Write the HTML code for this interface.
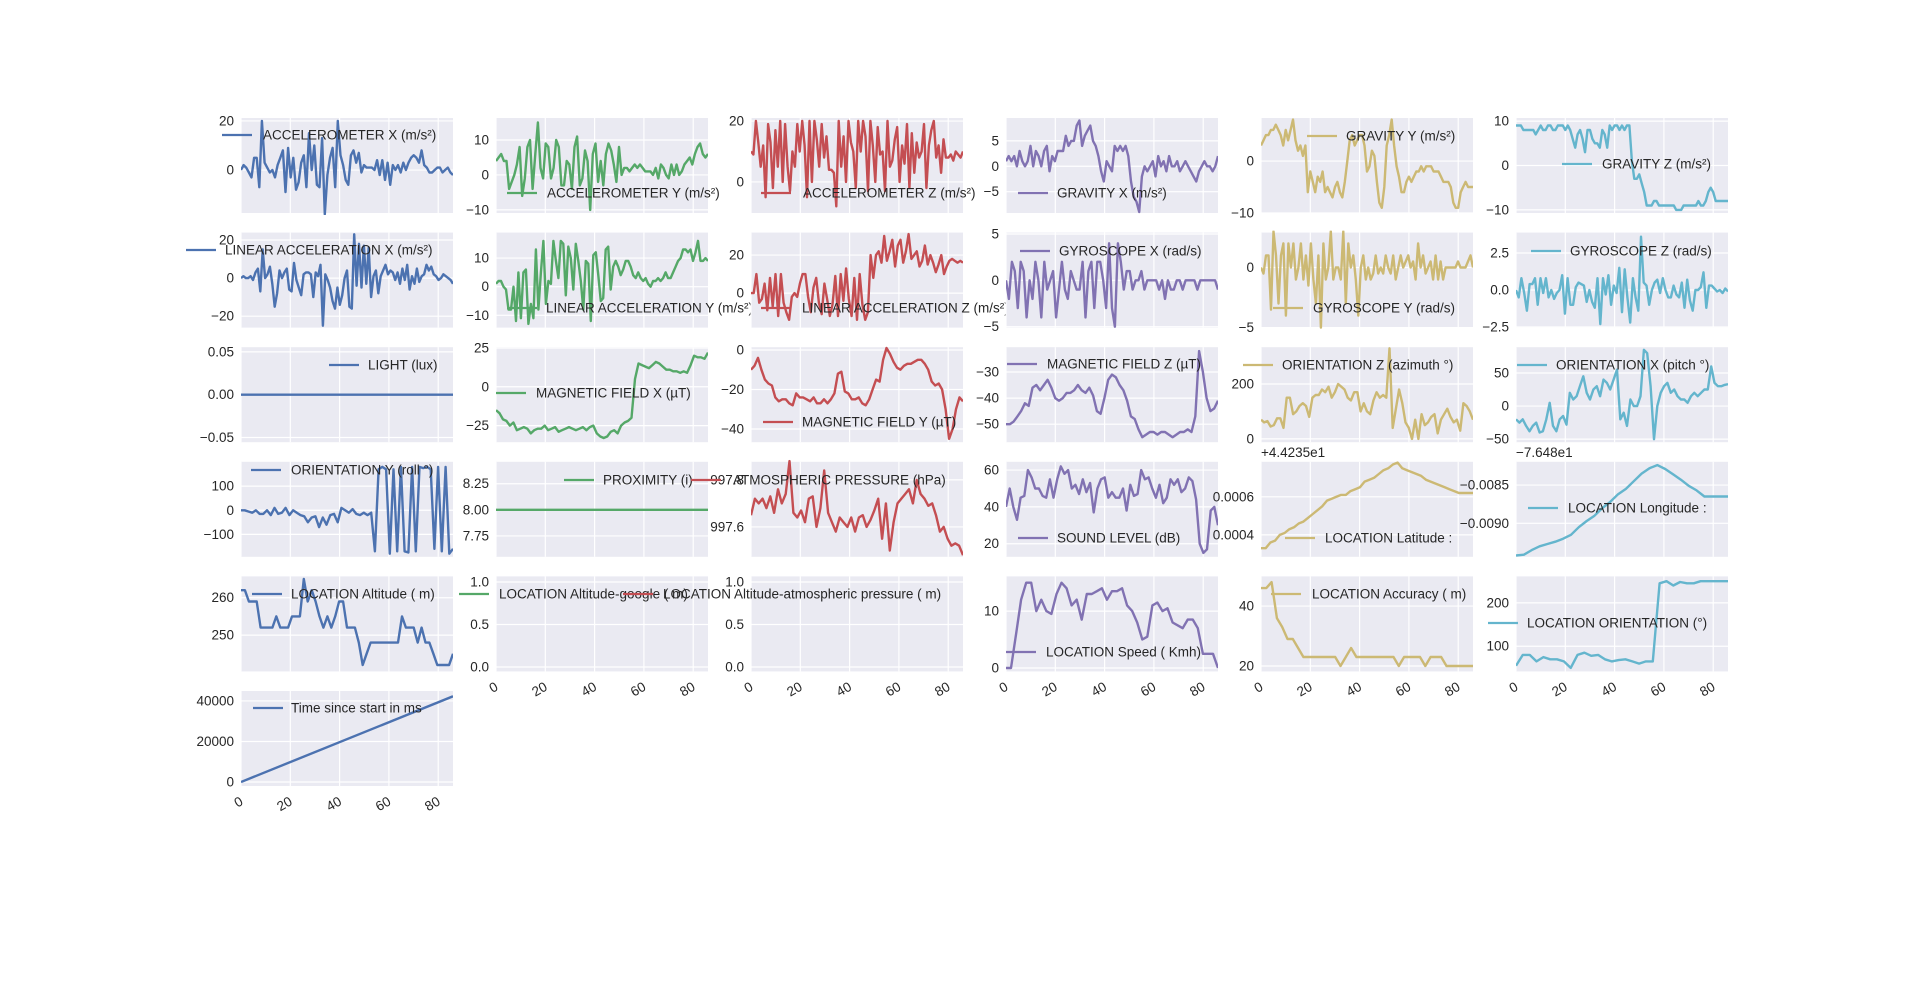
<!DOCTYPE html>
<html><head><meta charset="utf-8"><title>Sensor subplots</title>
<style>
html,body{margin:0;padding:0;background:#fff;}
svg{display:block;font-family:"Liberation Sans",Arial,sans-serif;}
</style></head>
<body>
<svg id="fig" width="1920" height="983" viewBox="0 0 1920 983" xmlns="http://www.w3.org/2000/svg"></svg>
<script>
const xTicks = [0, 20, 40, 60, 80];
const xTickLabels = ["0", "20", "40", "60", "80"];
const accX = [0,2,1,-1,-3,5,5,-7,20,3,1,-1,0,-3,2,5,8,-9,9,-3,5,-8,-5,3,6,-7,15,0,10,-6,-7,13,-18,-2,5,9,-7,20,6,2,-4,-6,6,8,3,7,-1,2,1,1,1,0,4,-2,4,-4,3,-6,2,0,2,-1,3,0,3,5,6,5,3,8,2,1,-1,-1,0,1,1,-1,0,1,-1,-2];
const accY = [4,5,6,4,4,-4,-2,0,3,8,-6,-1,8,10,-4,6,15,2,-1,9,8,-1,2,10,8,-3,-3,4,3,-4,8,11,-3,-1,7,4,-10,6,9,-2,4,-3,6,9,7,3,-2,8,0,2,2,1,2,3,2,3,2,1,1,1,0,2,-1,3,2,0,-1,3,0,3,0,1,3,4,5,3,6,8,9,6,5,6];
const accZ = [10,9,20,13,5,12,-5,19,13,-2,17,5,20,0,19,5,-3,10,5,19,10,20,12,-5,20,0,20,14,5,19,8,15,4,4,3,-8,20,5,15,0,20,13,10,-2,20,10,20,15,-3,20,12,0,18,9,10,-3,20,5,7,14,18,0,12,6,19,-2,16,3,13,8,10,19,-2,12,17,20,8,12,3,14,8,8,9,7,10,9,8,10];
const gravX = [1,2,1,2,0,3,1,0,1,4,0,3,2,0,3,4,-1,2,1,3,3,3,6,4,5,5,8,9,4,6,7,8,5,4,2,-1,-3,1,0,-1,4,3,4,3,4,2,-3,-6,-7,-9,-2,0,-1,0,1,-2,2,0,1,-1,2,0,0,1,-1,0,1,0,-1,-2,-3,-1,0,1,0,0,-1,0,2];
const gravY = [3,4,5,5,6,6,7,6,5,3,6,4,6,8,4,2,3,1,3,-6,-2,-4,-6,-3,-4,-2,-6,-5,-6,-7,-5,-4,-6,-7,-4,0,4,5,3,4,5,5,3,-2,-1,2,1,-4,-8,-9,-5,3,5,8,3,-1,-3,-6,-6,-4,-3,-4,-3,-2,-2,-1,-2,-1,-1,-1,-2,-2,-2,-3,-4,-4,-4,-5,-8,-9,-9,-6,-5,-4,-5,-5,-5];
const gravZ = [9,9,9,8,8,8,8,8,7,8,9,8,8,9,9,8,8,9,9,9,8,9,8,6,4,7,8,6,3,8,8,6,5,5,4,8,7,4,9,8,9,9,8,9,8,9,9,1,-3,-3,-2,-4,-6,-9,-9,-9,-8,-8,-9,-9,-9,-9,-9,-9,-9,-10,-10,-10,-9,-9,-9,-9,-9,-9,-8,-9,-9,-8,-6,-5,-6,-8,-8,-8,-8,-8,-8];
const linX = [0,1,0,0,1,-1,3,5,-7,15,0,2,6,-3,-15,-8,4,0,3,5,-6,-7,8,-1,-5,-9,2,3,3,2,-10,3,1,7,-25,2,-1,-5,-12,-16,-5,-14,-9,0,4,-15,-16,23,-4,18,-5,17,-3,16,-10,1,4,-8,1,4,7,2,4,3,-1,3,-3,5,-1,7,-6,1,-3,5,-2,1,2,7,4,6,2,1,-1,0,2,1,0,-1,-3];
const linY = [1,2,2,0,-1,-8,-8,0,-12,5,-11,5,6,-13,-6,-11,13,-8,5,16,-6,2,1,16,9,3,16,15,-3,14,10,-1,15,9,2,-8,9,8,-12,11,12,4,-5,-4,13,14,-1,7,9,7,4,6,9,9,7,4,3,5,3,2,3,1,0,2,2,3,2,3,5,3,3,5,7,9,10,13,13,12,13,9,12,16,9,9,10,9];
const linZ = [0,0,10,-5,-3,5,-9,8,-7,10,-12,10,-5,-10,-14,-2,0,-2,5,10,10,-2,-10,3,8,-5,-11,5,-3,-12,-6,9,-12,10,-4,13,-3,-12,8,-14,10,-6,-14,-10,20,8,20,22,16,30,17,22,28,14,25,28,16,22,31,18,20,22,14,17,25,15,20,16,11,15,20,10,14,17,18,17,16,17,16];
const gyroX = [0,-2,2,1,-3,2,1,-4,0,-2,2,0,-4,2,-1,0,1,-4,-1,2,-1,-2,1,0,-1,-1,2,-4,1,2,-3,2,2,0,-3,4,-3,-5,4,2,-1,1,1,-1,0,0,1,-1,0,0,0,0,-1,0,-2,0,-1,-1,0,0,-1,0,0,0,0,-1,0,0,0,0,0,0,-1];
const gyroY = [0,-0.5,1,1,-3.5,3,1,-3,1,2,-4,2,0,2,-1,0,2,-1,1,-1.5,2,-1,-3,1,-5,2,-1,0,3,-1,0,0,-1,3,-3,2,0,1,-1,-4,0,1,-1,0,-1,-0.5,1,-0.5,0,-0.5,1,0,-0.5,1,-1,0,1,0,0.5,1,0,0.5,-1,2,0,1,-0.5,0,0.5,-1,1,-1,0.5,-1,0,0,0,0,0,0.5,0,0,0,0.5,1,0];
const gyroZ = [0,-0.5,0.8,-0.2,-1.4,0.4,0.4,0.8,-1,0.8,-0.2,0.8,-0.5,0,-0.6,-0.2,0,1,-1.6,0.8,-1,-1,0.2,0.5,0.4,0.3,-0.8,0,-0.8,-1.2,0.8,-2.3,0.8,-0.3,1,-1,0.3,-0.2,1.5,-1.5,1.4,-0.5,-2.2,0.8,-0.5,-1.4,3.6,0.5,0.3,-1,0,0.5,0.7,-0.2,0.8,0,-0.5,-0.5,0.3,-0.3,-0.5,0.5,-1.2,0.7,-0.7,-1.4,0,0,0.2,1.2,-1.2,0.3,0.3,0.1,-0.1,0,-0.2,0.1,-0.1];
const light = [0, 0];
const magX = [-15,-17,-21,-22,-25,-23,-28,-27,-26,-27,-30,-28,-27,-27,-25,-28,-27,-26,-29,-28,-27,-26,-27,-28,-27,-26,-28,-26,-25,-30,-32,-33,-32,-29,-28,-30,-25,-23,-22,-20,5,15,14,13,12,14,16,15,13,11,11,10,10,9,10,9,14,20,19,19,18,22];
const magY = [-10,-8,-4,-10,-15,-17,-18,-24,-26,-25,-25,-27,-28,-22,-24,-24,-25,-26,-24,-27,-27,-25,-27,-25,-22,-12,-11,-21,-22,-25,-25,-24,-27,-28,-25,-20,-15,-16,-5,1,-2,-6,-9,-10,-8,-7,-7,-6,-5,-5,-7,-10,-16,-18,-17,-20,-30,-45,-40,-30,-24,-26];
const magZ = [-50,-50,-49,-47,-45,-42,-43,-36,-35,-37,-35,-33,-36,-40,-41,-40,-38,-38,-37,-35,-37,-38,-36,-39,-45,-46,-40,-33,-31,-32,-35,-37,-41,-47,-48,-52,-55,-54,-53,-53,-54,-53,-53,-54,-55,-54,-53,-53,-52,-53,-47,-22,-30,-40,-45,-44,-41];
const oriZ = [70,60,65,45,50,75,75,40,150,150,90,100,120,130,120,80,150,160,160,180,170,190,150,170,200,190,180,150,140,170,170,100,130,100,90,140,170,150,160,150,330,40,110,180,130,60,40,0,70,0,90,50,60,80,90,20,70,90,110,80,60,70,30,130,120,100,70];
const oriX = [-20,-25,-20,-30,-38,-30,-25,-40,-38,-20,5,-30,-38,-20,-15,-28,20,10,15,30,45,20,10,25,30,15,40,35,25,40,55,-20,-10,-30,10,0,0,15,85,80,30,-50,0,20,30,35,20,25,15,10,10,5,15,20,15,20,25,25,60,35,30,30,32,33];
const oriY = [0,0,-5,-10,0,-15,-15,0,-20,10,-15,-10,10,-20,0,-10,-20,-25,-50,-30,-25,-70,-30,-60,-20,-15,-50,10,0,-10,5,-15,-20,-10,-20,-10,-170,170,180,170,-180,170,-170,180,-170,-175,180,-170,180,175,180,170,-160,180,-170,180,-180,-160];
const proximity = [8, 8];
const atmPressure = [997.65,997.72,997.7,997.72,997.68,997.73,997.66,997.76,997.7,997.74,997.88,997.66,997.64,997.67,997.62,997.72,997.73,997.6,997.68,997.84,997.66,997.62,997.58,997.64,997.62,997.6,997.64,997.58,997.64,997.65,997.6,997.63,997.67,997.72,997.55,997.7,997.5,997.62,997.7,997.72,997.74,997.76,997.7,997.8,997.74,997.72,997.69,997.7,997.65,997.58,997.6,997.55,997.52,997.53,997.52,997.48];
const soundLevel = [40,50,40,33,45,46,60,56,50,50,46,45,55,45,55,62,58,60,50,52,47,55,48,53,37,50,55,56,45,48,45,45,50,38,52,46,47,60,55,56,50,45,52,42,45,55,52,55,48,50,56,54,44,20,15,17,38,40,30];
const latitude = [0.00033,0.00033,0.00036,0.00037,0.00040,0.00041,0.00043,0.00044,0.00046,0.00047,0.00049,0.00051,0.00053,0.00055,0.00058,0.00059,0.00060,0.00061,0.00061,0.00063,0.00064,0.00065,0.00068,0.00069,0.00070,0.00072,0.00074,0.00075,0.00077,0.00078,0.00075,0.00074,0.00073,0.00072,0.00071,0.00069,0.00068,0.00067,0.00066,0.00065,0.00064,0.00063,0.00062,0.00062,0.00062,0.00062];
const longitude = [-0.00942,-0.00941,-0.00935,-0.00930,-0.00927,-0.00924,-0.00920,-0.00915,-0.00905,-0.00897,-0.00890,-0.00880,-0.00872,-0.00862,-0.00855,-0.00845,-0.00835,-0.00828,-0.00824,-0.00829,-0.00836,-0.00843,-0.00851,-0.00857,-0.00865,-0.00865,-0.00865,-0.00865];
const altitude = [262,262,259,259,259,252,252,252,252,255,252,252,252,255,255,255,265,259,262,259,255,252,255,252,255,259,259,252,252,252,248,242,245,248,248,248,248,248,248,248,248,255,252,252,252,248,252,248,248,245,242,242,242,242,245];
const altGoogle = [];
const altAtm = [];
const speed = [0,0,6,12,15,15,10,12,10,9.5,13,15,14,11,12,8.5,13,13,13.5,14,12,13.5,13.5,14,11,10,8,5,5.5,11,11.5,10,10.5,8,7.5,7,8.5,8.5,7,2.5,2.5,2.5,0];
const accuracy = [46,46,48,36,33,29,29,26,23,23,23,23,23,23,23,20,23,26,23,23,23,23,23,23,23,23,20,23,23,23,23,20,23,23,23,20,20,20,20,20,20];
const locOrient = [55,80,80,65,75,70,70,65,50,80,85,78,80,70,65,68,70,65,60,65,65,245,250,240,248,245,245,250,250,250,250,250];
const timeMs = [0, 42300];

const C = {b:"#4C72B0", g:"#55A868", r:"#C44E52", p:"#8172B2", y:"#CCB974", c:"#64B5CD"};
const plots = [
 [0,0,"accelerometer-x","ACCELEROMETER X (m/s²)",C.b,accX,-17.5,21.2,[0,20],["0","20"],[222,135,263]],
 [0,1,"accelerometer-y","ACCELEROMETER Y (m/s²)",C.g,accY,-10.9,16.3,[-10,0,10],["−10","0","10"],[507,193,547]],
 [0,2,"accelerometer-z","ACCELEROMETER Z (m/s²)",C.r,accZ,-10.2,21,[0,20],["0","20"],[761,193,803]],
 [0,3,"gravity-x","GRAVITY X (m/s²)",C.p,gravX,-9.2,9.5,[-5,0,5],["−5","0","5"],[1018,193,1057]],
 [0,4,"gravity-y","GRAVITY Y (m/s²)",C.y,gravY,-10,8.3,[-10,0],["−10","0"],[1307,136,1346]],
 [0,5,"gravity-z","GRAVITY Z (m/s²)",C.c,gravZ,-10.7,10.7,[-10,0,10],["−10","0","10"],[1562,164,1602]],
 [1,0,"linear-acceleration-x","LINEAR ACCELERATION X (m/s²)",C.b,linX,-26,23.9,[-20,0,20],["−20","0","20"],[186,250,225]],
 [1,1,"linear-acceleration-y","LINEAR ACCELERATION Y (m/s²)",C.g,linY,-14.3,18.9,[-10,0,10],["−10","0","10"],[507,308,546]],
 [1,2,"linear-acceleration-z","LINEAR ACCELERATION Z (m/s²)",C.r,linZ,-18.1,31.8,[0,20],["0","20"],[761,308,802]],
 [1,3,"gyroscope-x","GYROSCOPE X (rad/s)",C.p,gyroX,-5.1,5.15,[-5,0,5],["−5","0","5"],[1020,251,1059]],
 [1,4,"gyroscope-y","GYROSCOPE Y (rad/s)",C.y,gyroY,-5,2.9,[-5,0],["−5","0"],[1273,308,1313]],
 [1,5,"gyroscope-z","GYROSCOPE Z (rad/s)",C.c,gyroZ,-2.54,3.88,[-2.5,0,2.5],["−2.5","0.0","2.5"],[1531,251,1570]],
 [2,0,"light","LIGHT (lux)",C.b,light,-0.0555,0.0555,[-0.05,0,0.05],["−0.05","0.00","0.05"],[329,365,368]],
 [2,1,"magnetic-field-x","MAGNETIC FIELD X (µT)",C.g,magX,-35.7,25.5,[-25,0,25],["−25","0","25"],[496,393,536]],
 [2,2,"magnetic-field-y","MAGNETIC FIELD Y (µT)",C.r,magY,-46.7,1.4,[-40,-20,0],["−40","−20","0"],[763,422,802]],
 [2,3,"magnetic-field-z","MAGNETIC FIELD Z (µT)",C.p,magZ,-56.9,-20.5,[-50,-40,-30],["−50","−40","−30"],[1007,364,1047]],
 [2,4,"orientation-z","ORIENTATION Z (azimuth °)",C.y,oriZ,-12,334,[0,200],["0","200"],[1243,365,1282]],
 [2,5,"orientation-x","ORIENTATION X (pitch °)",C.c,oriX,-54.6,89,[-50,0,50],["−50","0","50"],[1517,365,1556]],
 [3,0,"orientation-y","ORIENTATION Y (roll °)",C.b,oriY,-193,201,[-100,0,100],["−100","0","100"],[251,470,291]],
 [3,1,"proximity","PROXIMITY (i)",C.g,proximity,7.55,8.46,[7.75,8,8.25],["7.75","8.00","8.25"],[564,480,603]],
 [3,2,"atmospheric-pressure","ATMOSPHERIC PRESSURE (hPa)",C.r,atmPressure,997.473,997.877,[997.6,997.8],["997.6","997.8"],[691,480,733]],
 [3,3,"sound-level","SOUND LEVEL (dB)",C.p,soundLevel,12.9,64.5,[20,40,60],["20","40","60"],[1018,538,1057]],
 [3,4,"location-latitude","LOCATION Latitude :",C.y,latitude,0.000285,0.000784,[0.0004,0.0006],["0.0004","0.0006"],[1285,538,1325],false,"+4.4235e1"],
 [3,5,"location-longitude","LOCATION Longitude :",C.c,longitude,-0.009437,-0.0081964,[-0.009,-0.0085],["−0.0090","−0.0085"],[1528,508,1568],false,"−7.648e1"],
 [4,0,"location-altitude","LOCATION Altitude ( m)",C.b,altitude,240.3,265.7,[250,260],["250","260"],[252,594,291]],
 [4,1,"location-altitude-google","LOCATION Altitude-google ( m)",C.g,altGoogle,-0.052,1.066,[0,0.5,1],["0.0","0.5","1.0"],[459,594,499],true],
 [4,2,"location-altitude-atmospheric","LOCATION Altitude-atmospheric pressure ( m)",C.r,altAtm,-0.052,1.066,[0,0.5,1],["0.0","0.5","1.0"],[623,594,663],true],
 [4,3,"location-speed","LOCATION Speed ( Kmh)",C.p,speed,-0.6,16.1,[0,10],["0","10"],[1006,652,1046],true],
 [4,4,"location-accuracy","LOCATION Accuracy ( m)",C.y,accuracy,18.2,49.9,[20,40],["20","40"],[1271,594,1312],true],
 [4,5,"location-orientation","LOCATION ORIENTATION (°)",C.c,locOrient,42,261,[100,200],["100","200"],[1488,623,1527],true],
 [5,0,"time-since-start","Time since start in ms",C.b,timeMs,-1960,44900,[0,20000,40000],["0","20000","40000"],[253,708,291],true]
];

const NS = "http://www.w3.org/2000/svg";
const svg = document.getElementById("fig");
function mk(tag, attrs, parent){ const e=document.createElementNS(NS,tag); for(const k in attrs) e.setAttribute(k,attrs[k]); (parent||svg).appendChild(e); return e; }
const XMAX = 86, W = 212, H = 95, FS = 13.5;
const textCol = "#262626";

plots.forEach((p, i) => {
  const [r,c,name,label,col,data,y0,y1,yt,ytl,leg,xlab,offset] = p;
  const L = 241 + 255*c, T = 118 + 114.6*r;
  const xs = v => L + v / XMAX * W;
  const ys = v => T + H - (v - y0) / (y1 - y0) * H;
  const g = mk("g", {});
  
  
  const bg = mk("rect", {x:L, y:T, width:W, height:H, fill:"#EAEAF2"}, g);
  
  
  xTicks.forEach(t => { mk("line", {x1:xs(t), x2:xs(t), y1:T, y2:T+H, stroke:"#fff", "stroke-width":1.2}, g); });
  yt.forEach((t, k) => {
    mk("line", {x1:L, x2:L+W, y1:ys(t), y2:ys(t), stroke:"#fff", "stroke-width":1.2}, g);
    const tx = mk("text", {x:L-7, y:ys(t), "text-anchor":"end", "dominant-baseline":"central", "font-size":FS, fill:textCol}, g);
    tx.textContent = ytl[k];
    
    
  });
  const cid = "clip" + i;
  const cp = mk("clipPath", {id:cid}, g);
  mk("rect", {x:L, y:T-2, width:W, height:H+4}, cp);
  if (data.length > 1) {
    const n = data.length;
    const pts = data.map((v, k) => xs(k * XMAX / (n - 1)).toFixed(1) + "," + ys(v).toFixed(1)).join(" ");
    const pl = mk("polyline", {points:pts, fill:"none", stroke:col, "stroke-width":2.4, "stroke-linejoin":"round", "clip-path":"url(#"+cid+")"}, g);
    
    
  }
  if (xlab) {
    xTicks.forEach((t, k) => {
      const x = xs(t) + 3, y = T + H + 18;
      const tx = mk("text", {x:x, y:y, "text-anchor":"end", "font-size":FS, fill:textCol, transform:"rotate(-30 "+x+" "+y+")"}, g);
      tx.textContent = xTickLabels[k];
      
      
    });
  }
  if (offset) {
    const ot = mk("text", {x:L, y:T-5, "font-size":FS, fill:textCol}, g);
    ot.textContent = offset;
    
    
  }
  const lg = mk("g", {}, g);
  
  
  mk("line", {x1:leg[0], x2:leg[0]+30, y1:leg[1], y2:leg[1], stroke:col, "stroke-width":2.3}, lg);
  const lt = mk("text", {x:leg[2], y:leg[1], "dominant-baseline":"central", "font-size":FS, fill:textCol}, lg);
  lt.textContent = label;
});
</script>
</body></html>
